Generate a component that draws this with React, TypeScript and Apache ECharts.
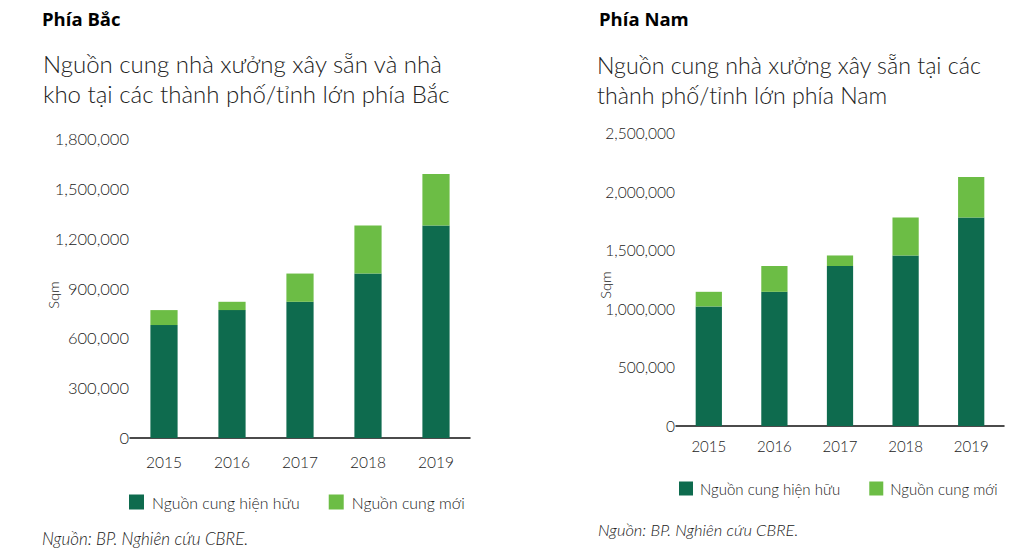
import React, { useEffect, useRef } from "react";
import * as echarts from "echarts";

const years = ["2015", "2016", "2017", "2018", "2019"];
const northExisting = [680000, 770000, 820000, 990000, 1280000];
const northNew = [90000, 50000, 170000, 290000, 310000];
const southExisting = [1020000, 1145000, 1365000, 1455000, 1780000];
const southNew = [125000, 220000, 90000, 325000, 345000];
const seriesNames = ["Nguồn cung hiện hữu", "Nguồn cung mới"];
const headers = ["Phía Bắc", "Phía Nam"];
const northTitle = ["Nguồn cung nhà xưởng xây sẵn và nhà", "kho tại các thành phố/tỉnh lớn phía Bắc"];
const southTitle = ["Nguồn cung nhà xưởng xây sẵn tại các", "thành phố/tỉnh lớn phía Nam"];
const sourceText = "Nguồn: BP. Nghiên cứu CBRE.";
const unitLabel = "Sqm";

const DARK = "#0e6b4e";
const LIGHT = "#6cbd45";
const TEXT = "#222222";
const FONT = "Lato, 'Noto Sans', sans-serif";
const W = 300;

const fmt = (v: number) => v.toLocaleString("en-US");

export default function App() {
  const ref = useRef<HTMLDivElement>(null);
  useEffect(() => {
    const chart = echarts.init(ref.current!, undefined, { renderer: "svg" });
    const txt = (text: string, x: number, y: number, size: number, extra: any = {}, rotation = 0) => ({
      type: "text",
      x,
      y,
      rotation,
      style: {
        text,
        fill: TEXT,
        fontFamily: FONT,
        fontSize: size,
        fontWeight: W,
        align: "left",
        verticalAlign: "middle",
        ...extra,
      },
    });
    const option: any = {
      animation: false,
      backgroundColor: "#ffffff",
      textStyle: { fontFamily: FONT },
      grid: [
        { left: 130, top: 139, width: 340, height: 299 },
        { left: 676, top: 133, width: 328, height: 293 },
      ],
      xAxis: [0, 1].map((i) => ({
        type: "category",
        gridIndex: i,
        data: years,
        axisLine: { lineStyle: { color: "#111", width: 1.5 } },
        axisTick: { show: false },
        axisLabel: { color: TEXT, fontSize: i === 0 ? 15.5 : 15, fontWeight: W, margin: i === 0 ? 16 : 12, fontFamily: FONT },
      })),
      yAxis: [
        {
          type: "value",
          gridIndex: 0,
          min: 0,
          max: 1800000,
          interval: 300000,
          axisLine: { show: false },
          axisTick: { show: false },
          splitLine: { show: false },
          axisLabel: { color: TEXT, fontSize: 16.5, fontWeight: W, margin: 1, formatter: fmt, fontFamily: FONT },
        },
        {
          type: "value",
          gridIndex: 1,
          min: 0,
          max: 2500000,
          interval: 500000,
          axisLine: { show: false },
          axisTick: { show: false },
          splitLine: { show: false },
          axisLabel: { color: TEXT, fontSize: 15.5, fontWeight: W, margin: 1, formatter: fmt, fontFamily: FONT },
        },
      ],
      legend: [
        {
          left: 129,
          top: 494,
          padding: 0,
          itemWidth: 15,
          itemHeight: 15,
          itemGap: 29,
          icon: "rect",
          data: seriesNames,
          textStyle: { color: TEXT, fontSize: 15.8, fontWeight: W, fontFamily: FONT, padding: [0, 0, 0, 3] },
          selectedMode: false,
        },
        {
          left: 679,
          top: 481,
          padding: 0,
          itemWidth: 14,
          itemHeight: 14,
          itemGap: 29,
          icon: "rect",
          data: seriesNames,
          textStyle: { color: TEXT, fontSize: 15, fontWeight: W, fontFamily: FONT, padding: [0, 0, 0, 2] },
          selectedMode: false,
        },
      ],
      series: [
        { name: seriesNames[0], type: "bar", stack: "n", xAxisIndex: 0, yAxisIndex: 0, data: northExisting, barWidth: "40%", itemStyle: { color: DARK } },
        { name: seriesNames[1], type: "bar", stack: "n", xAxisIndex: 0, yAxisIndex: 0, data: northNew, barWidth: "40%", itemStyle: { color: LIGHT } },
        { name: seriesNames[0], type: "bar", stack: "s", xAxisIndex: 1, yAxisIndex: 1, data: southExisting, barWidth: "40%", itemStyle: { color: DARK } },
        { name: seriesNames[1], type: "bar", stack: "s", xAxisIndex: 1, yAxisIndex: 1, data: southNew, barWidth: "40%", itemStyle: { color: LIGHT } },
      ],
      graphic: [
        txt(headers[0], 42, 18, 18.5, { fontFamily: "'Open Sans', sans-serif", fontWeight: "bold", fill: "#000" }),
        txt(headers[1], 599, 18, 18.5, { fontFamily: "'Open Sans', sans-serif", fontWeight: "bold", fill: "#000" }),
        txt(northTitle[0], 43, 63, 24),
        txt(northTitle[1], 43, 93, 24),
        txt(southTitle[0], 597, 65, 23.2),
        txt(southTitle[1], 597, 95, 23.2),
        txt(unitLabel, 53, 295, 14.5, { align: "center" }, Math.PI / 2),
        txt(unitLabel, 605, 285, 14.5, { align: "center" }, Math.PI / 2),
        txt(sourceText, 42, 538, 17, { fontStyle: "italic" }),
        txt(sourceText, 598, 530, 16.5, { fontStyle: "italic" }),
      ],
    };
    chart.setOption(option);
    return () => chart.dispose();
  }, []);
  return (
    <div
      ref={ref}
      style={{ position: "fixed", left: 0, top: 0, width: 1034, height: 548, background: "#fff" }}
    />
  );
}
